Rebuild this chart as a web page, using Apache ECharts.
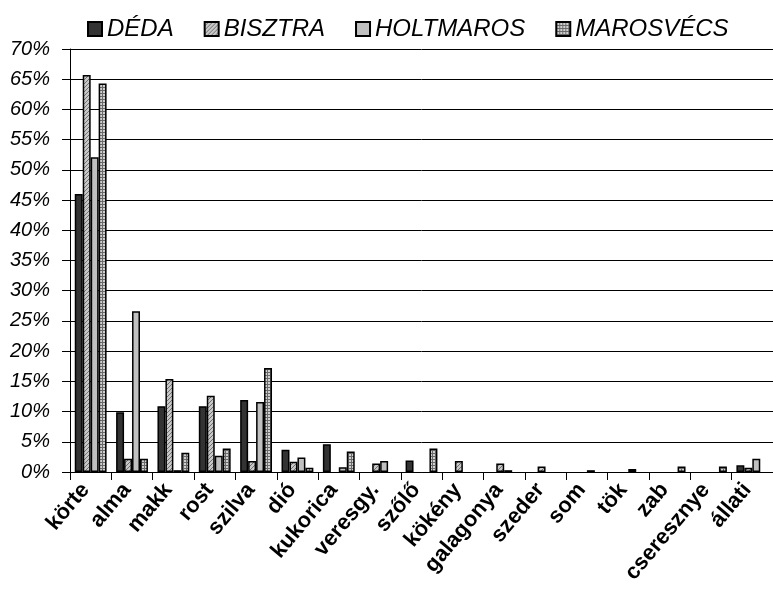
<!DOCTYPE html>
<html>
<head>
<meta charset="utf-8">
<script src="https://cdn.jsdelivr.net/npm/echarts@6/dist/echarts.min.js"></script>
<style>
  html, body { margin: 0; padding: 0; background: #fff; }
  #main { width: 773px; height: 593px; }
</style>
</head>
<body>
<div id="main"></div>
<script>
var categories = ["körte", "alma", "makk", "rost", "szilva", "dió", "kukorica", "veresgy.", "szőlő", "kökény", "galagonya", "szeder", "som", "tök", "zab", "cseresznye", "állati"];
var seriesNames = ["DÉDA", "BISZTRA", "HOLTMAROS", "MAROSVÉCS"];
var deda = [46.0, 9.9, 10.9, 10.9, 11.9, 3.7, 4.6, 0, 1.9, 0, 0, 0, 0, 0, 0, 0, 1.1];
var bisztra = [65.7, 2.2, 15.4, 12.6, 1.8, 1.7, 0, 1.4, 0, 1.8, 1.4, 0.9, 0, 0, 0, 0, 0.7];
var holtmaros = [52.1, 26.6, 0.3, 2.7, 11.6, 2.4, 0.8, 1.8, 0, 0, 0.3, 0, 0.3, 0.5, 0, 0, 2.2];
var marosvecs = [64.3, 2.2, 3.2, 3.9, 17.2, 0.7, 3.4, 0, 3.9, 0, 0, 0, 0, 0, 0.9, 0.9, 0];
var yTicks = { min: 0, max: 70, step: 5 };

var font = "'Liberation Sans', Arial, sans-serif";

// small canvas fills for the hatched series
function hatch() {
  var c = document.createElement("canvas");
  c.width = 4; c.height = 4;
  var g = c.getContext("2d");
  g.fillStyle = "#c8c8c8";
  g.fillRect(0, 0, 4, 4);
  g.fillStyle = "#707070";
  for (var i = 0; i < 4; i++) g.fillRect(i, 3 - i, 1, 1);
  return { image: c, repeat: "repeat" };
}
function grid() {
  var c = document.createElement("canvas");
  c.width = 3; c.height = 3;
  var g = c.getContext("2d");
  g.fillStyle = "#6a6a6a";
  g.fillRect(0, 0, 3, 3);
  g.fillStyle = "#d0d0d0";
  g.fillRect(1, 1, 2, 2);
  return { image: c, repeat: "repeat" };
}

function bar(name, values, fill) {
  return {
    name: name,
    type: "bar",
    barGap: "0%",
    barCategoryGap: "23%",
    data: values.map(function (v) { return v === 0 ? null : v; }),
    itemStyle: { color: fill, borderColor: "#000", borderWidth: 1.5 }
  };
}

var myChart = echarts.init(document.getElementById("main"));
var option = {
  animation: false,
  backgroundColor: "#fff",
  textStyle: { fontFamily: font },
  legend: {
    data: seriesNames,
    left: 82,
    top: 12,
    icon: "rect",
    itemWidth: 14,
    itemHeight: 14,
    itemGap: 30,
    textStyle: { fontSize: 24, fontStyle: "italic", color: "#000", fontFamily: font }
  },
  grid: { left: 70, right: -7, top: 49, bottom: 121 },
  xAxis: {
    type: "category",
    data: categories,
    axisLine: { lineStyle: { color: "#000", width: 1 } },
    axisTick: { show: true, length: 8, lineStyle: { color: "#000" } },
    axisLabel: {
      interval: 0,
      rotate: 50,
      margin: 8,
      padding: [0, 8, 0, 0],
      color: "#000",
      fontSize: 22,
      fontWeight: "bold",
      fontFamily: font
    }
  },
  yAxis: {
    type: "value",
    min: yTicks.min,
    max: yTicks.max,
    interval: yTicks.step,
    axisLine: { show: true, lineStyle: { color: "#000", width: 1 } },
    axisTick: { show: true, length: 8, lineStyle: { color: "#000" } },
    axisLabel: {
      formatter: "{value}%",
      margin: 20,
      color: "#000",
      fontSize: 20,
      fontStyle: "italic",
      fontFamily: font
    },
    splitLine: { lineStyle: { color: "#000", width: 1 } }
  },
  series: [
    bar(seriesNames[0], deda, "#333333"),
    bar(seriesNames[1], bisztra, hatch()),
    bar(seriesNames[2], holtmaros, "#c0c0c0"),
    bar(seriesNames[3], marosvecs, grid())
  ]
};

option && myChart.setOption(option);
</script>
</body>
</html>
